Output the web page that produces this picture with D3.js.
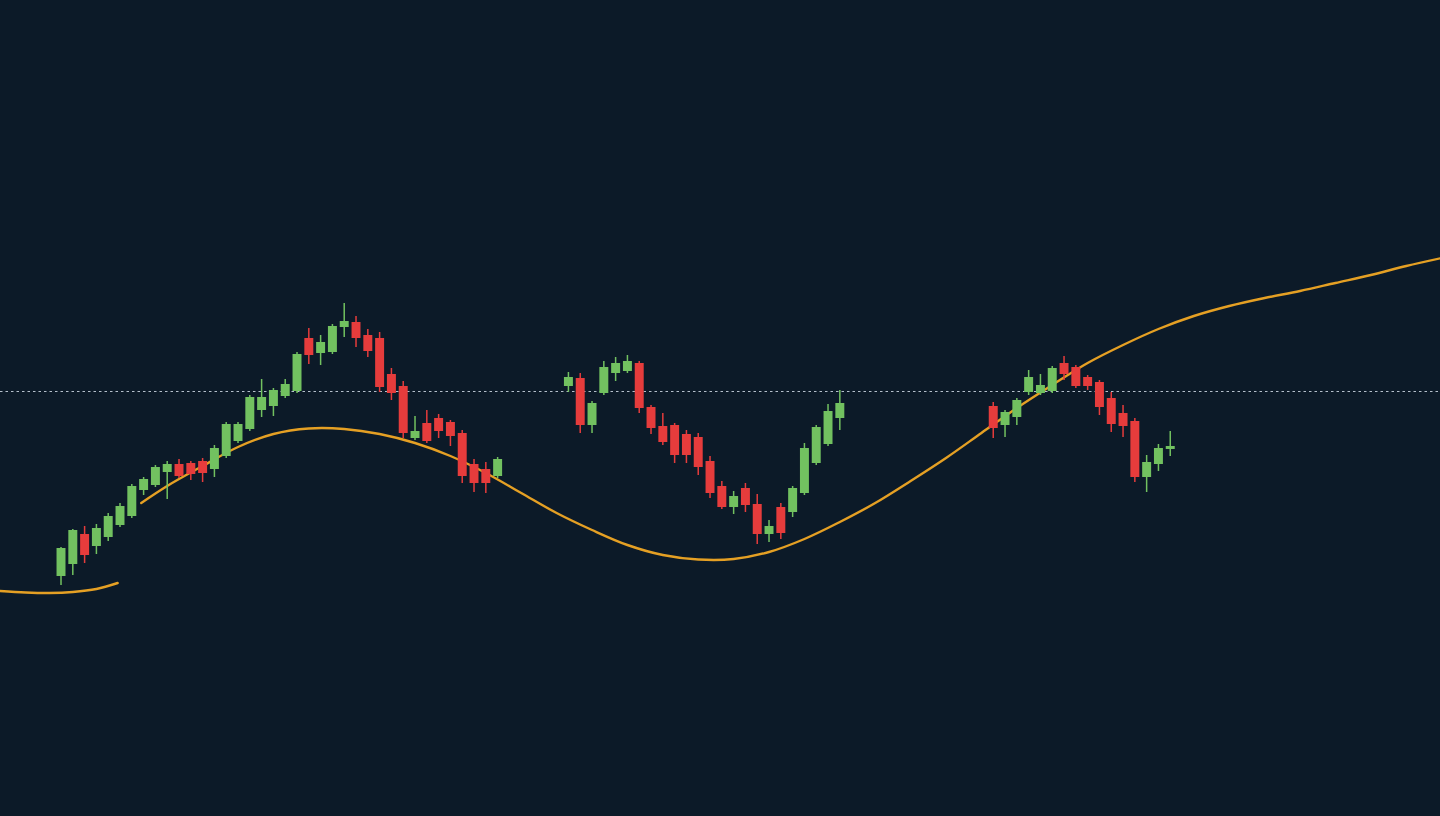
<!DOCTYPE html>
<html>
<head>
<meta charset="utf-8">
<script src="https://cdn.jsdelivr.net/npm/d3@7/dist/d3.min.js"></script>
<style>
  html, body { margin: 0; padding: 0; background: #0c1a28; overflow: hidden; }
  svg { display: block; }
</style>
</head>
<body>
<svg id="chart" width="1440" height="816"></svg>
<script>
// ---- Data ----
const days = [
  0,1,2,3,4,5,6,7,8,9,10,11,12,13,14,15,16,17,18,19,20,21,22,23,24,25,26,27,28,29,30,31,32,33,34,35,36,37,
  43,44,45,46,47,48,49,50,51,52,53,54,55,56,57,58,59,60,61,62,63,64,65,66,
  79,80,81,82,83,84,85,86,87,88,89,90,91,92,93,94
];
const opens = [
  81.5,82.7,85.7,84.5,85.4,86.6,87.5,90.1,90.6,91.9,92.7,92.8,93.0,92.2,93.5,95.0,96.2,98.1,98.5,99.5,100.0,105.3,103.8,103.9,106.4,106.9,105.6,105.3,101.7,100.5,95.3,96.8,97.3,96.9,95.8,92.7,92.2,91.5,
  100.5,101.3,96.6,99.8,101.8,102.0,102.8,98.4,96.5,96.6,95.7,95.4,93.0,90.5,88.4,90.3,88.7,85.7,88.4,87.9,89.8,92.8,94.7,97.3,
  98.5,96.6,97.4,99.9,99.8,100.0,102.8,102.4,101.4,100.9,99.3,97.8,97.0,91.4,92.7,94.2
];
const highs = [
  84.4,86.2,86.5,86.7,87.8,88.8,90.7,91.4,92.6,93.0,93.2,93.0,93.3,94.6,96.9,96.9,99.6,101.2,100.3,101.2,103.9,106.3,105.6,106.7,108.8,107.5,106.2,105.9,102.3,101.0,97.5,98.1,97.7,97.1,96.1,93.2,92.9,93.4,
  101.9,101.8,99.0,103.0,103.4,103.6,103.0,98.6,97.8,96.8,96.1,95.8,93.5,91.0,90.0,90.8,89.7,87.1,88.8,90.5,94.8,96.6,98.7,100.1,
  98.9,98.1,99.3,102.1,101.7,102.5,103.5,102.6,101.6,101.1,99.9,98.6,97.3,93.6,94.7,96.0
];
const lows = [
  80.6,81.6,82.8,83.7,85.0,86.4,87.3,89.6,90.4,89.2,91.3,91.1,90.9,91.4,93.3,94.8,96.0,97.4,97.5,99.3,99.8,102.7,102.6,103.7,105.4,104.4,103.4,99.9,99.1,95.3,95.1,94.8,95.3,94.5,90.8,89.9,89.8,91.3,
  99.9,95.8,95.8,99.6,101.0,101.8,97.8,95.7,94.6,92.8,92.8,91.6,89.3,88.2,87.7,87.9,84.7,84.9,85.2,87.4,89.6,92.6,94.5,96.1,
  95.3,95.4,96.6,99.6,99.6,99.8,101.1,100.3,100.1,97.6,95.9,95.4,90.9,89.9,92.0,93.5
];
const closes = [
  84.3,86.1,83.6,86.3,87.5,88.5,90.5,91.2,92.4,92.7,91.5,91.7,91.8,94.3,96.7,96.7,99.4,99.4,100.1,100.7,103.7,103.6,104.9,106.5,107.0,105.3,104.0,100.4,99.8,95.8,96.0,95.0,96.0,95.5,91.5,90.8,90.8,93.2,
  101.4,96.6,98.8,102.4,102.8,103.0,98.3,96.3,94.9,93.6,93.6,92.4,89.8,88.4,89.5,88.6,85.7,86.5,85.8,90.3,94.3,96.4,98.0,98.8,
  96.3,97.9,99.1,101.4,100.6,102.3,101.7,100.5,100.5,98.4,96.7,96.5,91.4,92.9,94.3,94.5
];

// Moving-average line (null = break in the line)
const maDays = [-5.2,-3,-1,1,3,4.8,5.8,6.8,9,12,15,18,21,24,27,30,33,36,39,42,45,48,51,54,57,60,63,66,69,72,75,78,81,84,87,90,93,96,99,102,105,108,111,114,117];
const maValues = [80.0,79.85,79.8,79.9,80.2,80.8,null,88.8,90.5,92.5,94.4,95.7,96.25,96.2,95.7,94.8,93.5,91.8,89.8,87.8,86.1,84.6,83.6,83.15,83.2,83.9,85.2,86.9,88.8,91.0,93.3,95.8,98.3,100.6,102.8,104.6,106.2,107.5,108.5,109.3,110.0,110.8,111.6,112.5,113.3];

const refLevel = 100.0;

// ---- Chart ----
const W = 1440, H = 816;
const svg = d3.select("#chart");
svg.append("rect").attr("width", W).attr("height", H).attr("fill", "#0c1a28");

const x = d3.scaleLinear().domain([-5.17, 116.86]).range([0, W]);
const y = d3.scaleLinear().domain([57.5, 139.1]).range([H, 0]);

const step = x(1) - x(0);
const bodyW = step * 0.76;

const UP = "#72c160", DOWN = "#e63c3c";

// reference dotted line (half-pixel offset for a crisp 1px line)
const refY = Math.round(y(refLevel)) + 0.5;
svg.append("line")
  .attr("x1", 0).attr("x2", W)
  .attr("y1", refY).attr("y2", refY)
  .attr("stroke", "#c8d3de").attr("stroke-opacity", 0.9)
  .attr("stroke-width", 1).attr("stroke-dasharray", "2.5,3");

const candles = days.map((d, i) => ({ d, o: opens[i], h: highs[i], l: lows[i], c: closes[i] }));

// MA line
const maData = maDays.map((d, i) => ({ d, v: maValues[i] }));
const line = d3.line()
  .defined(p => p.v !== null)
  .x(p => x(p.d))
  .y(p => y(p.v))
  .curve(d3.curveCatmullRom.alpha(0.5));
svg.append("path")
  .datum(maData)
  .attr("d", line)
  .attr("fill", "none")
  .attr("stroke", "#e5a024")
  .attr("stroke-width", 2.4)
  .attr("stroke-linecap", "round");

const g = svg.append("g");
const cg = g.selectAll("g.candle").data(candles).join("g").attr("class", "candle");
cg.append("line")
  .attr("x1", c => x(c.d)).attr("x2", c => x(c.d))
  .attr("y1", c => y(c.h)).attr("y2", c => y(c.l))
  .attr("stroke", c => c.c >= c.o ? UP : DOWN)
  .attr("stroke-width", 1.5);
cg.append("rect")
  .attr("x", c => x(c.d) - bodyW / 2)
  .attr("width", bodyW)
  .attr("y", c => y(Math.max(c.o, c.c)))
  .attr("height", c => Math.max(1.5, Math.abs(y(c.o) - y(c.c))))
  .attr("fill", c => c.c >= c.o ? UP : DOWN);
</script>
</body>
</html>
